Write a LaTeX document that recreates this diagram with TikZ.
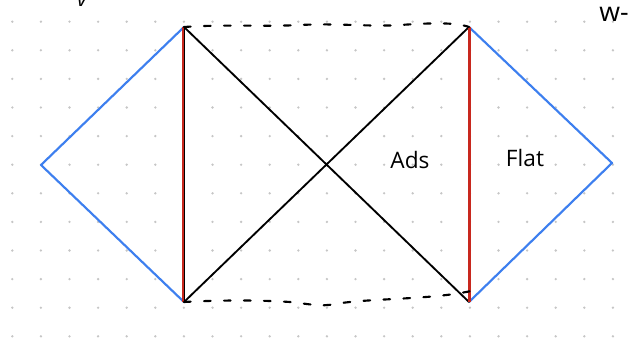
\documentclass[tikz,border=0pt]{standalone}
\usepackage{fontspec}
\setmainfont{Open Sans}
\begin{document}
\begin{tikzpicture}[x=0.75pt,y=-0.75pt,
  blueline/.style={draw=penblue,line width=1.6pt,line join=round},
  blackline/.style={draw=black,line width=1.4pt,line cap=round},
  redline/.style={draw=penred,line width=2pt},
  wavy/.style={draw=black,line width=1.6pt,line cap=round,dash pattern=on 5 off 10},
  hand/.style={font=\fontsize{17}{17}\selectfont,inner sep=0pt},
  griddot/.style={fill=gray!45,draw=none}]
\definecolor{penblue}{HTML}{3D7FEF}
\definecolor{penred}{HTML}{C8281E}
\useasboundingbox (0,0) rectangle (639,346);
\fill[white] (0,0) rectangle (639,346);
% dot grid
\foreach \i in {0,...,21}{
  \foreach \j in {0,...,11}{
    \fill[griddot] (12.3+28.6*\i,21.7+28.6*\j) circle (1.3);
  }
}
% corner points
\coordinate (L) at (41,165);
\coordinate (TL) at (184,27);
\coordinate (BL) at (184,302);
\coordinate (TR) at (469,27);
\coordinate (BR) at (469,302);
\coordinate (R) at (612,163);
\coordinate (BRend) at (471,291);
% blue diamonds
\draw[blueline] (TL) -- (L) -- (BL);
\draw[blueline] (TR) -- (R) -- (BR);
% crossing lines
\draw[blackline] (TL) -- (BR);
\draw[blackline] (BL) -- (TR);
% vertical lines
\draw[black,line width=0.8pt] (TL) -- (BL);
\draw[black,line width=0.8pt] (TR) -- (BR);
\draw[redline] ([xshift=-0.8]TL) -- ([xshift=-0.8]BL);
\draw[redline] ([xshift=0.5]TR) -- ([xshift=0.5]BR);
% wavy dashed horizons
\draw[wavy] (TL) .. controls (230,24) and (260,27) .. (300,25)
  .. controls (340,23) and (370,27) .. (400,25)
  .. controls (430,23) and (455,22) .. (TR);
\draw[wavy] (BL) .. controls (220,300) and (260,300) .. (290,302)
  .. controls (310,304) and (320,307) .. (335,304)
  .. controls (370,298) and (430,300) .. (BRend);
% labels
\node[hand] (ads) at (410,160) {Ads};
\node[hand] (flat) at (525,158) {Flat};
\node[hand,font=\fontsize{20}{20}\selectfont,anchor=west] (w) at (599,14) {w-};
\node[hand,font=\fontsize{16}{16}\selectfont\itshape] (v) at (82,1) {v};
\end{tikzpicture}
\end{document}
